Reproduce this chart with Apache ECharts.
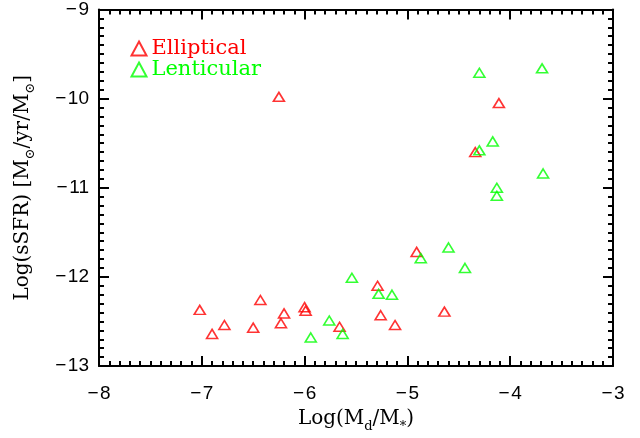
<!DOCTYPE html>
<html>
<head>
<meta charset="utf-8">
<script src="https://cdn.jsdelivr.net/npm/echarts@6/dist/echarts.min.js"></script>
<style>
  html, body { margin: 0; padding: 0; background: #fff; }
  #main { width: 640px; height: 438px; }
</style>
</head>
<body>
<div id="main"></div>
<script>
// Elliptical: [log(Md/M*), log(sSFR)]
const elliptical = [
  [-6.25, -9.98], [-4.11, -10.05], [-4.34, -10.60], [-4.91, -11.72],
  [-5.29, -12.10], [-5.26, -12.43], [-5.12, -12.54], [-4.64, -12.39],
  [-7.02, -12.37], [-6.90, -12.64], [-6.78, -12.54], [-6.43, -12.26],
  [-6.50, -12.57], [-6.20, -12.41], [-6.23, -12.52], [-6.00, -12.34],
  [-5.99, -12.38], [-5.66, -12.56]
];
// Lenticular
const lenticular = [
  [-4.30, -9.71], [-3.69, -9.66], [-4.17, -10.48], [-4.30, -10.58],
  [-3.68, -10.84], [-4.13, -11.00], [-4.13, -11.09], [-4.87, -11.79],
  [-4.60, -11.67], [-4.44, -11.90], [-5.54, -12.01], [-5.28, -12.19],
  [-5.15, -12.20], [-5.94, -12.68], [-5.76, -12.49], [-5.63, -12.64]
];

const sansFont = 'Liberation Sans';
const serifFont = 'DejaVu Serif';

// minus sign with a hair space, like the IDL labels
function minus(v) {
  return String(v).replace('-', '\u2212\u200A');
}

function axisBase(pos, showLabel, min, max) {
  return {
    type: 'value',
    position: pos,
    min: min,
    max: max,
    interval: 1,
    splitLine: { show: false },
    axisLine: { show: true, onZero: false, lineStyle: { color: '#000', width: 2 } },
    axisTick: { show: true, inside: true, length: 10, lineStyle: { color: '#000', width: 2 } },
    minorTick: { show: true, splitNumber: 10, length: 5, lineStyle: { color: '#000', width: 2 } },
    axisLabel: {
      show: showLabel,
      color: '#000',
      fontFamily: sansFont,
      fontSize: 19,
      margin: 10,
      formatter: minus
    }
  };
}

const titleRich = {
  n: { fontFamily: serifFont, fontSize: 20, color: '#000', lineHeight: 28, verticalAlign: 'middle' },
  s: { fontFamily: serifFont, fontSize: 13, color: '#000', lineHeight: 28, verticalAlign: 'bottom' }
};

const chart = echarts.init(document.getElementById('main'));

const xMain = axisBase('bottom', true, -8, -3);
xMain.name = '{n|Log(M}{s|d}{n|/M}{s|*}{n|)}';
xMain.nameLocation = 'middle';
xMain.nameGap = 53;
xMain.nameMoveOverlap = false;
xMain.nameTextStyle = { verticalAlign: 'middle', rich: titleRich };
xMain.axisLabel.margin = 18;

const yMain = axisBase('left', true, -13, -9);
yMain.name = '{n|Log(sSFR) [M}{s|\u2299}{n|/yr/M}{s|\u2299}{n|]}';
yMain.nameLocation = 'middle';
yMain.nameGap = 76;
yMain.nameMoveOverlap = false;
yMain.nameTextStyle = { verticalAlign: 'middle', rich: titleRich };
yMain.axisLabel.padding = [6, 0, 0, 0];

chart.setOption({
  animation: false,
  backgroundColor: '#fff',
  grid: { left: 99, right: 27, top: 9, bottom: 66, containLabel: false },
  legend: {
    orient: 'vertical',
    left: 124,
    top: 33,
    itemWidth: 15,
    itemHeight: 14,
    itemGap: 0,
    textStyle: { fontFamily: serifFont, fontSize: 21, lineHeight: 20 },
    data: [
      { name: 'Elliptical', icon: 'triangle', textStyle: { color: '#ff0000' } },
      { name: 'Lenticular', icon: 'triangle', textStyle: { color: '#00ff00' } }
    ]
  },
  xAxis: [xMain, axisBase('top', false, -8, -3)],
  yAxis: [yMain, axisBase('right', false, -13, -9)],
  series: [
    {
      name: 'Elliptical',
      type: 'scatter',
      xAxisIndex: 0,
      yAxisIndex: 0,
      symbol: 'triangle',
      symbolSize: [11, 9],
      itemStyle: { color: 'none', borderColor: '#ff0000', borderWidth: 1.6 },
      data: elliptical
    },
    {
      name: 'Lenticular',
      type: 'scatter',
      xAxisIndex: 0,
      yAxisIndex: 0,
      symbol: 'triangle',
      symbolSize: [11, 9],
      itemStyle: { color: 'none', borderColor: '#00ff00', borderWidth: 1.6 },
      data: lenticular
    }
  ]
});
</script>
</body>
</html>
